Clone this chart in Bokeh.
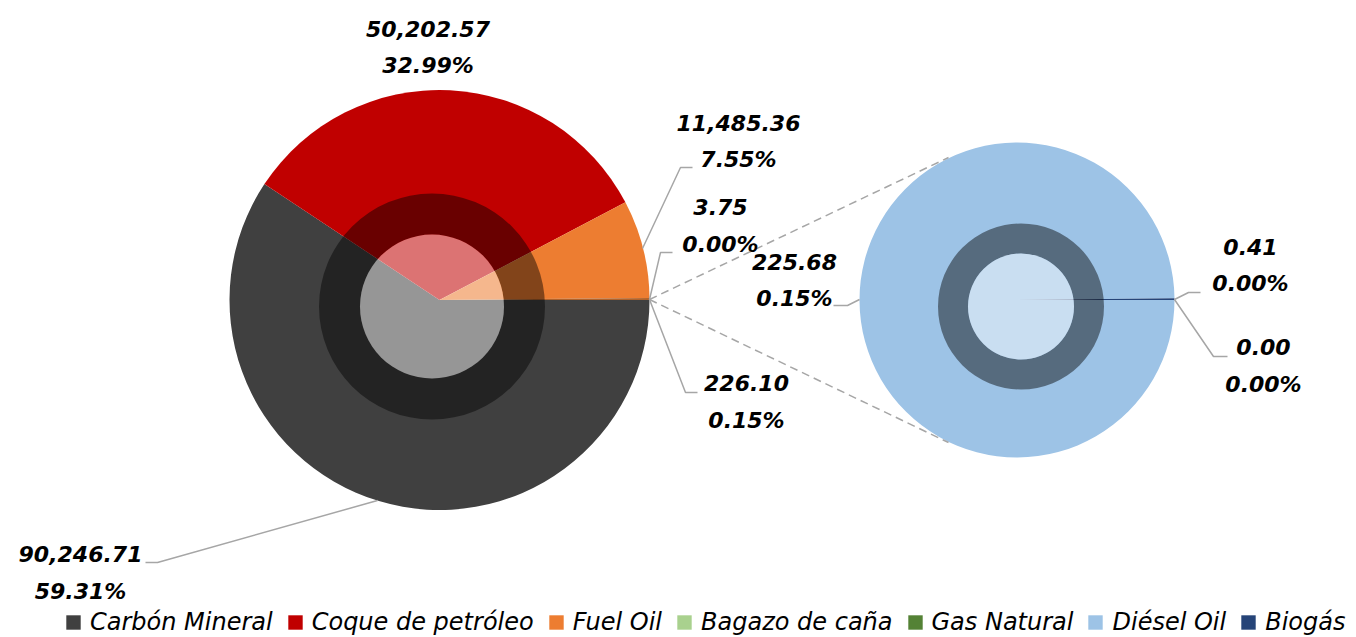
import math
from bokeh.plotting import figure
from bokeh.models import Range1d, ColumnDataSource, Legend, LegendItem
from bokeh.core.properties import value
from bokeh.embed import file_html
from bokeh.resources import INLINE

# ---------------- data ----------------
main_labels = ["Carbón Mineral", "Coque de petróleo", "Fuel Oil", "Bagazo de caña"]
main_values = [90246.71, 50202.57, 11485.36, 3.75]
main_colors = ["#404040", "#C00000", "#ED7D31", "#A9D18E"]

sec_labels = ["Gas Natural", "Diésel Oil", "Biogás"]
sec_values = [0.003, 225.684, 0.413]
sec_colors = ["#548235", "#9DC3E6", "#264478"]

other_color = "#B0622A"

# ---------------- layout constants (picture pixels, origin top-left) ----------------
W, H = 1356, 637


def Y(py):
    return H - py


MAIN_CX, MAIN_CY, MAIN_R = 439, 299.5, 210
MAIN_SH_CX, MAIN_SH_CY, MAIN_SH_R1, MAIN_SH_R2 = 431.5, 306, 72, 113
SEC_CX, SEC_CY, SEC_R = 1016.5, 299.5, 157.5
SEC_SH_CX, SEC_SH_CY, SEC_SH_R1, SEC_SH_R2 = 1020.5, 306, 53, 83

FONT = "DejaVu Sans"
LBL_SIZE = "22px"
LINE_GAP = 37
GREY = "#A6A6A6"

p = figure(width=W, height=H, x_range=Range1d(0, W), y_range=Range1d(0, H),
           output_backend="svg", toolbar_location=None, min_border=0,
           x_axis_location=None, y_axis_location=None)
p.grid.visible = False
p.outline_line_color = None
p.background_fill_color = "white"
p.border_fill_color = "white"

# ---------------- wedges ----------------
total = sum(main_values) + sum(sec_values)
other_total = sum(sec_values)
m_vals = main_values + [other_total]
m_cols = main_colors + [other_color]

starts, ends = [], []
cum = 0.0
for v in m_vals:
    a0 = cum
    cum += v / total
    ends.append(-a0 * 2 * math.pi)
    starts.append(-cum * 2 * math.pi)
main_src = ColumnDataSource(dict(start=starts, end=ends, color=m_cols))
r_main = p.wedge(x=MAIN_CX, y=Y(MAIN_CY), radius=MAIN_R, start_angle="start", end_angle="end",
                 fill_color="color", line_color=None, source=main_src)

s_starts, s_ends = [], []
cum = 0.0
for v in sec_values:
    a0 = cum
    cum += v / other_total
    s_ends.append(-a0 * 2 * math.pi)
    s_starts.append(-cum * 2 * math.pi)
sec_src = ColumnDataSource(dict(start=s_starts, end=s_ends, color=sec_colors))
r_sec = p.wedge(x=SEC_CX, y=Y(SEC_CY), radius=SEC_R, start_angle="start", end_angle="end",
                fill_color="color", line_color=None, source=sec_src)

# shading (soft-edge look of the original)
for cx, cy, r1, r2 in [(MAIN_SH_CX, MAIN_SH_CY, MAIN_SH_R1, MAIN_SH_R2),
                       (SEC_SH_CX, SEC_SH_CY, SEC_SH_R1, SEC_SH_R2)]:
    p.annulus(x=cx, y=Y(cy), inner_radius=r1, outer_radius=r2, fill_color="black",
              fill_alpha=0.45, line_color=None)
    p.circle(x=cx, y=Y(cy), radius=r1, fill_color="white", fill_alpha=0.45, line_color=None)

# ---------------- connector lines ----------------
p.line([649, 948], [Y(299), Y(157)], line_color=GREY, line_width=1.5, line_dash="8 5")
p.line([649, 948], [Y(299), Y(442)], line_color=GREY, line_width=1.5, line_dash="8 5")

leaders = [
    [(377, 500), (157, 562), (145, 562)],          # Carbón
    [(642, 248), (680, 167), (692, 167)],          # Fuel Oil
    [(649, 299), (660, 252), (672, 252)],          # Bagazo
    [(649, 299), (685, 392), (697, 392)],          # Otros
    [(859, 299), (847, 305), (833, 305)],          # Diésel
    [(1174, 299), (1188, 292), (1200, 292)],       # Biogás
    [(1174, 299), (1213, 356), (1227, 356)],       # Gas Natural
]
p.multi_line(xs=[[a for a, b in L] for L in leaders], ys=[[Y(b) for a, b in L] for L in leaders],
             line_color=GREY, line_width=1.5)

# ---------------- data labels ----------------
def lab(v):
    return f"{v:,.2f}", f"{v / total * 100:.2f}%"

label_vals = main_values + [other_total] + sec_values
# (center x, visual center y of first line)
label_pos = [(80, 553.5), (427.5, 28), (738, 122), (720, 206.5), (746, 382.5),
             (1263, 346.5), (794, 261), (1250, 246)]
tx, ty, tt = [], [], []
for v, (cx, cy) in zip(label_vals, label_pos):
    a, b = lab(v)
    tx += [cx, cx]
    ty += [Y(cy), Y(cy + LINE_GAP)]
    tt += [a, b]
p.text(x=tx, y=ty, text=tt, text_align="center", text_baseline="middle",
       text_font=value(FONT), text_font_style="bold italic", text_font_size=LBL_SIZE,
       text_color="black")

# ---------------- legend ----------------
items = [LegendItem(label=l, renderers=[r_main], index=i) for i, l in enumerate(main_labels)]
items += [LegendItem(label=l, renderers=[r_sec], index=i) for i, l in enumerate(sec_labels)]
legend = Legend(items=items, orientation="horizontal", location=(64, 1),
                border_line_color=None, background_fill_alpha=0, padding=0, margin=0,
                spacing=13, label_standoff=8, glyph_width=18, glyph_height=18,
                label_text_font=FONT, label_text_font_style="italic",
                label_text_font_size="24px", label_text_color="black")
p.add_layout(legend)

open("out.html", "w").write(file_html(p, INLINE))
